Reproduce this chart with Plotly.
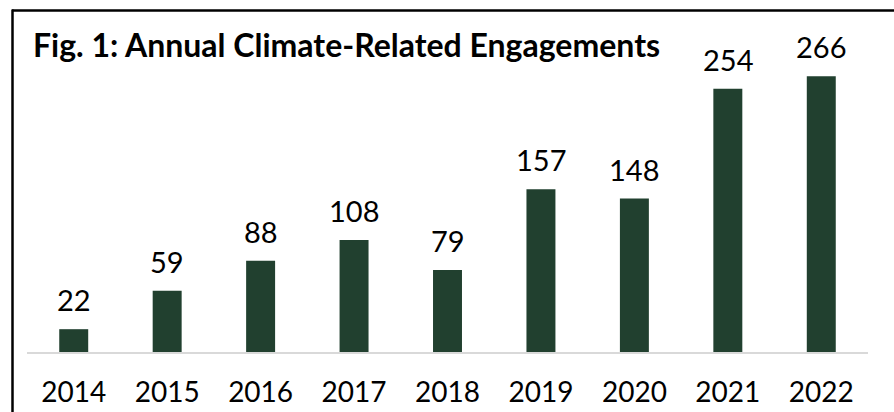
import plotly.graph_objects as go

years = ["2014", "2015", "2016", "2017", "2018", "2019", "2020", "2021", "2022"]
engagements = [22, 59, 88, 108, 79, 157, 148, 254, 266]
title_text = "Fig. 1: Annual Climate-Related Engagements"

W, H = 894, 412
L, R, T, B = 27, 26, 41, 60
pw, ph = W - L - R, H - T - B

def px_x(x):
    return (x - L) / pw

def px_y(y):
    return (H - B - y) / ph

FONT = "Lato, Carlito, Calibri, sans-serif"
BAR = "#21402F"

fig = go.Figure(go.Bar(x=years, y=engagements, marker=dict(color=BAR, line=dict(width=0)),
                       hoverinfo="skip"))

for i, v in enumerate(engagements):
    fig.add_annotation(x=i, y=v, text=str(v), showarrow=False, xref="x", yref="y",
                       yanchor="bottom", yshift=10,
                       font=dict(family=FONT, size=29, color="#000000"))

fig.add_annotation(x=px_x(31), y=px_y(45), xref="paper", yref="paper", text="<b>" + title_text + "</b>",
                   showarrow=False, xanchor="left", yanchor="middle",
                   font=dict(family=FONT, size=32, color="#000000"))

# border lines (top and left)
fig.add_shape(type="line", xref="paper", yref="paper", x0=px_x(12), x1=px_x(900),
              y0=px_y(10.5), y1=px_y(10.5), line=dict(color="#000000", width=2.5))
fig.add_shape(type="line", xref="paper", yref="paper", x0=px_x(12.5), x1=px_x(12.5),
              y0=px_y(9.5), y1=px_y(420), line=dict(color="#000000", width=2.5))

fig.update_layout(
    width=W, height=H,
    margin=dict(l=L, r=R, t=T, b=B, pad=0, autoexpand=False),
    paper_bgcolor="white", plot_bgcolor="white",
    bargap=0.69,
    showlegend=False,
    xaxis=dict(type="category", range=[-0.5, len(years) - 0.5], showline=True, linecolor="#D9D9D9",
               linewidth=1.5, ticks="", showgrid=False, automargin=False,
               tickfont=dict(family=FONT, size=28, color="#000000"), ticklabelstandoff=15,
               fixedrange=True),
    yaxis=dict(range=[0, 300], visible=False, showgrid=False, fixedrange=True, automargin=False),
)

fig.write_html("out.html", config={"displayModeBar": False},
               post_script="document.body.style.margin='0';document.body.style.overflow='hidden';")
